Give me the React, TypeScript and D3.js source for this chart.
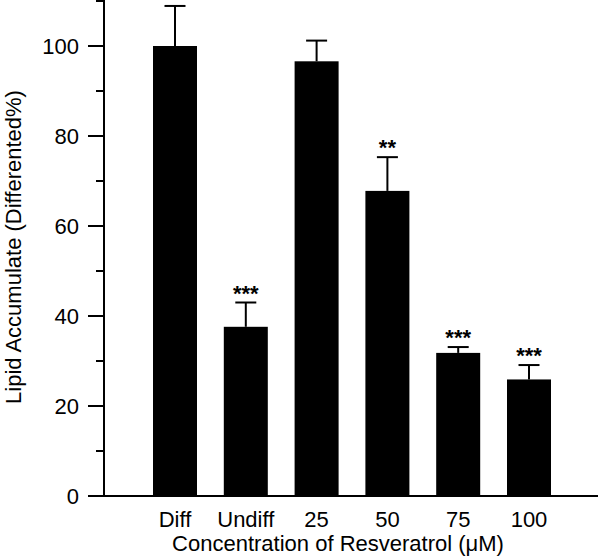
import React from 'react'
import * as d3 from 'd3'

const categories = ['Diff', 'Undiff', '25', '50', '75', '100']
const means = [100, 37.6, 96.6, 67.8, 31.8, 25.9]
const errors = [8.9, 5.4, 4.6, 7.5, 1.3, 3.2]
const stars = ['', '***', '', '**', '***', '***']
const majorTicks = [0, 20, 40, 60, 80, 100]
const minorTicks = [10, 30, 50, 70, 90, 110]

const W = 600
const H = 559
const font = 'Arial, "Liberation Sans", sans-serif'

export default function App() {
  const y = d3.scaleLinear().domain([0, 110]).range([496, 1])
  const x = d3.scalePoint<string>().domain(categories).range([175, 529])
  const barW = 44
  const capW = 21
  const axisX = 104

  return (
    <svg width={W} height={H} style={{ position: 'absolute', left: 0, top: 0 }}>
      <rect width={W} height={H} fill="#fff" />
      {/* bars + error bars */}
      {categories.map((c, i) => {
        const cx = x(c)!
        const top = y(means[i] + errors[i])
        return (
          <g key={c}>
            <rect x={cx - barW / 2} y={y(means[i])} width={barW} height={y(0) - y(means[i])} fill="#000" />
            <line x1={cx} x2={cx} y1={y(means[i])} y2={top} stroke="#000" strokeWidth={2} />
            <line x1={cx - capW / 2} x2={cx + capW / 2} y1={top} y2={top} stroke="#000" strokeWidth={2} />
            {stars[i] && (
              <text x={cx} y={top - 2} textAnchor="middle" fontFamily={font} fontWeight="bold" fontSize={22}>
                {stars[i]}
              </text>
            )}
          </g>
        )
      })}
      {/* y axis */}
      <line x1={axisX} x2={axisX} y1={y(110) - 1} y2={y(0)} stroke="#000" strokeWidth={2} />
      {majorTicks.map(t => (
        <g key={t}>
          <line x1={axisX - 16} x2={axisX} y1={y(t)} y2={y(t)} stroke="#000" strokeWidth={2} />
          <text x={79} y={y(t) + 8} textAnchor="end" fontFamily={font} fontSize={22}>{t}</text>
        </g>
      ))}
      {minorTicks.map(t => (
        <line key={t} x1={axisX - 8} x2={axisX} y1={y(t)} y2={y(t)} stroke="#000" strokeWidth={2} />
      ))}
      {/* x axis */}
      <line x1={axisX} x2={598} y1={y(0)} y2={y(0)} stroke="#000" strokeWidth={2} />
      {categories.map(c => (
        <text key={c} x={x(c)!} y={527} textAnchor="middle" fontFamily={font} fontSize={22}>{c}</text>
      ))}
      <text x={338} y={551} textAnchor="middle" fontFamily={font} fontSize={22}>
        Concentration of Resveratrol (μM)
      </text>
      <text transform="translate(21,247) rotate(-90)" textAnchor="middle" fontFamily={font} fontSize={22}>
        Lipid Accumulate (Differented%)
      </text>
    </svg>
  )
}
